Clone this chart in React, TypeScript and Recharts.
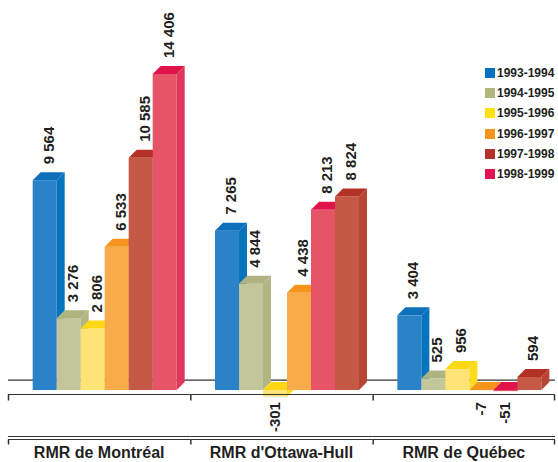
import React from 'react';
import { BarChart, Bar, XAxis, YAxis, LabelList, CartesianGrid, Legend } from 'recharts';

const categories = ["RMR de Montréal", "RMR d'Ottawa-Hull", "RMR de Québec"];
const seriesNames = ["1993-1994", "1994-1995", "1995-1996", "1996-1997", "1997-1998", "1998-1999"];
const v1993_1994 = [9564, 7265, 3404];
const v1994_1995 = [3276, 4844, 525];
const v1995_1996 = [2806, -301, 956];
const v1996_1997 = [6533, 4438, -7];
const v1997_1998 = [10585, 8824, 594];
const v1998_1999 = [14406, 8213, -51];
const seriesValues = [v1993_1994, v1994_1995, v1995_1996, v1996_1997, v1997_1998, v1998_1999];
// which series sits in each bar slot, per category (as drawn in the original)
const slotOrder = [
  [0, 1, 2, 3, 4, 5],
  [0, 1, 2, 3, 5, 4],
  [0, 1, 2, 3, 5, 4],
];

const legendColors = ["#0070C0", "#B1B77F", "#FFE010", "#F7941D", "#B5302A", "#E2114F"];
const frontColors = ["#2A82C8", "#C3C59B", "#FEE477", "#F8AB4B", "#C45A45", "#E65467"];
const topColors = ["#0E6FBA", "#AEB380", "#FFD815", "#F7941E", "#B33125", "#E0134B"];
const sideColors = ["#0673BD", "#B0B583", "#FFDB1E", "#F29A35", "#B84434", "#DF3759"];

const data = categories.map((cat, ci) => {
  const row: any = { cat };
  slotOrder[ci].forEach((si, k) => {
    row[`slot${k}`] = seriesValues[si][ci];
    row[`ser${k}`] = si;
  });
  return row;
});

const W = 558;
const H = 462;
const MARGIN = { top: 50, right: 3, left: 8, bottom: 0 };
const PLOT_W = W - MARGIN.left - MARGIN.right;
const BAND = PLOT_W / categories.length;
const Y_DOMAIN = [-500, 15500];
const DX = 8;
const DY = 8;
const SHIFT = 7;
const FONT = "'Liberation Sans', Arial, sans-serif";

const fmt = (v: number) => {
  const s = Math.abs(v).toString().replace(/\B(?=(\d{3})+(?!\d))/g, ' ');
  return (v < 0 ? '-' : '') + s;
};

function makeShape(k: number) {
  return (p: any) => {
    const si = p.payload[`ser${k}`];
    const x = p.x + SHIFT;
    const w = p.width;
    const top = Math.min(p.y, p.y + p.height);
    const h = Math.abs(p.height);
    return (
      <g>
        <rect x={x} y={top} width={w} height={h} fill={frontColors[si]} />
        <polygon
          points={`${x},${top} ${x + DX},${top - DY} ${x + w + DX},${top - DY} ${x + w},${top}`}
          fill={topColors[si]}
        />
        <polygon
          points={`${x + w},${top} ${x + w + DX},${top - DY} ${x + w + DX},${top + h - DY} ${x + w},${top + h}`}
          fill={sideColors[si]}
        />
      </g>
    );
  };
}

const renderLabel = (p: any) => {
  const v = Number(p.value);
  const x = p.x + SHIFT;
  const top = Math.min(p.y, p.y + p.height);
  const cx = x + p.width / 2;
  if (v >= 0) {
    const px = cx + 9;
    const py = top - 16;
    return (
      <text x={px} y={py} transform={`rotate(-90, ${px}, ${py})`} textAnchor="start"
        fontFamily={FONT} fontWeight="bold" fontSize={15} fill="#231F20">{fmt(v)}</text>
    );
  }
  const px = cx + 5;
  const py = top + 12;
  return (
    <text x={px} y={py} transform={`rotate(-90, ${px}, ${py})`} textAnchor="end"
      fontFamily={FONT} fontWeight="bold" fontSize={15} fill="#231F20">{fmt(v)}</text>
  );
};

const CategoryTick = (p: any) => {
  const { x, y, payload, index } = p;
  const l = x - BAND / 2;
  const r = x + BAND / 2;
  const last = index === categories.length - 1;
  const a = y - 6.5;
  const b1 = y + 35.5;
  const b2 = y + 38.5;
  const st = '#333';
  return (
    <g>
      <line x1={l} x2={r} y1={a} y2={a} stroke={st} strokeWidth={1.2} />
      <line x1={l + 0.5} x2={l + 0.5} y1={a} y2={a + 6} stroke={st} strokeWidth={1.5} />
      {last && <line x1={r - 0.5} x2={r - 0.5} y1={a} y2={a + 6} stroke={st} strokeWidth={1.5} />}
      <line x1={l} x2={r} y1={b1} y2={b1} stroke={st} strokeWidth={1} />
      <line x1={l} x2={r} y1={b2} y2={b2} stroke={st} strokeWidth={1} />
      <line x1={l + 0.5} x2={l + 0.5} y1={b2} y2={b2 + 5} stroke={st} strokeWidth={1.5} />
      {last && <line x1={r - 0.5} x2={r - 0.5} y1={b2} y2={b2 + 5} stroke={st} strokeWidth={1.5} />}
      <text x={x} y={y + 57} textAnchor="middle" fontFamily={FONT} fontWeight="bold" fontSize={16} fill="#231F20">
        {payload.value}
      </text>
    </g>
  );
};

const LegendContent = () => (
  <div style={{ fontFamily: FONT, fontWeight: 'bold', fontSize: 12, color: '#231F20' }}>
    {seriesNames.map((n, i) => (
      <div key={n} style={{ height: 20.2, display: 'flex', alignItems: 'center', whiteSpace: 'nowrap' }}>
        <span style={{ display: 'inline-block', width: 10, height: 10, background: legendColors[i], marginRight: 2 }} />
        <span>{n}</span>
      </div>
    ))}
  </div>
);

// zero line drawn on the back plane of the 3D bars (behind them)
const zeroLineGenerator = ({ offset }: any) => {
  const frac = Y_DOMAIN[1] / (Y_DOMAIN[1] - Y_DOMAIN[0]);
  return [offset.top + offset.height * frac - 10];
};

export default function App() {
  return (
    <div style={{ position: 'absolute', left: 0, top: 0, width: W, height: H, background: '#fff' }}>
      <BarChart width={W} height={H} data={data} margin={MARGIN} barGap={0} barCategoryGap="9.7%">
        <CartesianGrid vertical={false} horizontal={true} stroke="#333" strokeWidth={1.2}
          horizontalCoordinatesGenerator={zeroLineGenerator} />
        <YAxis hide domain={Y_DOMAIN} type="number" />
        <XAxis dataKey="cat" height={61} axisLine={false} tickLine={false} tickSize={0} tickMargin={0}
          interval={0} tick={(p: any) => <CategoryTick {...p} />} />
        {[0, 1, 2, 3, 4, 5].map((k) => (
          <Bar key={k} dataKey={`slot${k}`} isAnimationActive={false} shape={makeShape(k)}>
            <LabelList dataKey={`slot${k}`} content={renderLabel} />
          </Bar>
        ))}
        <Legend layout="vertical" align="center" verticalAlign="middle"
          wrapperStyle={{ top: 63, left: 485, width: 80 }} content={() => <LegendContent />} />
      </BarChart>
    </div>
  );
}
